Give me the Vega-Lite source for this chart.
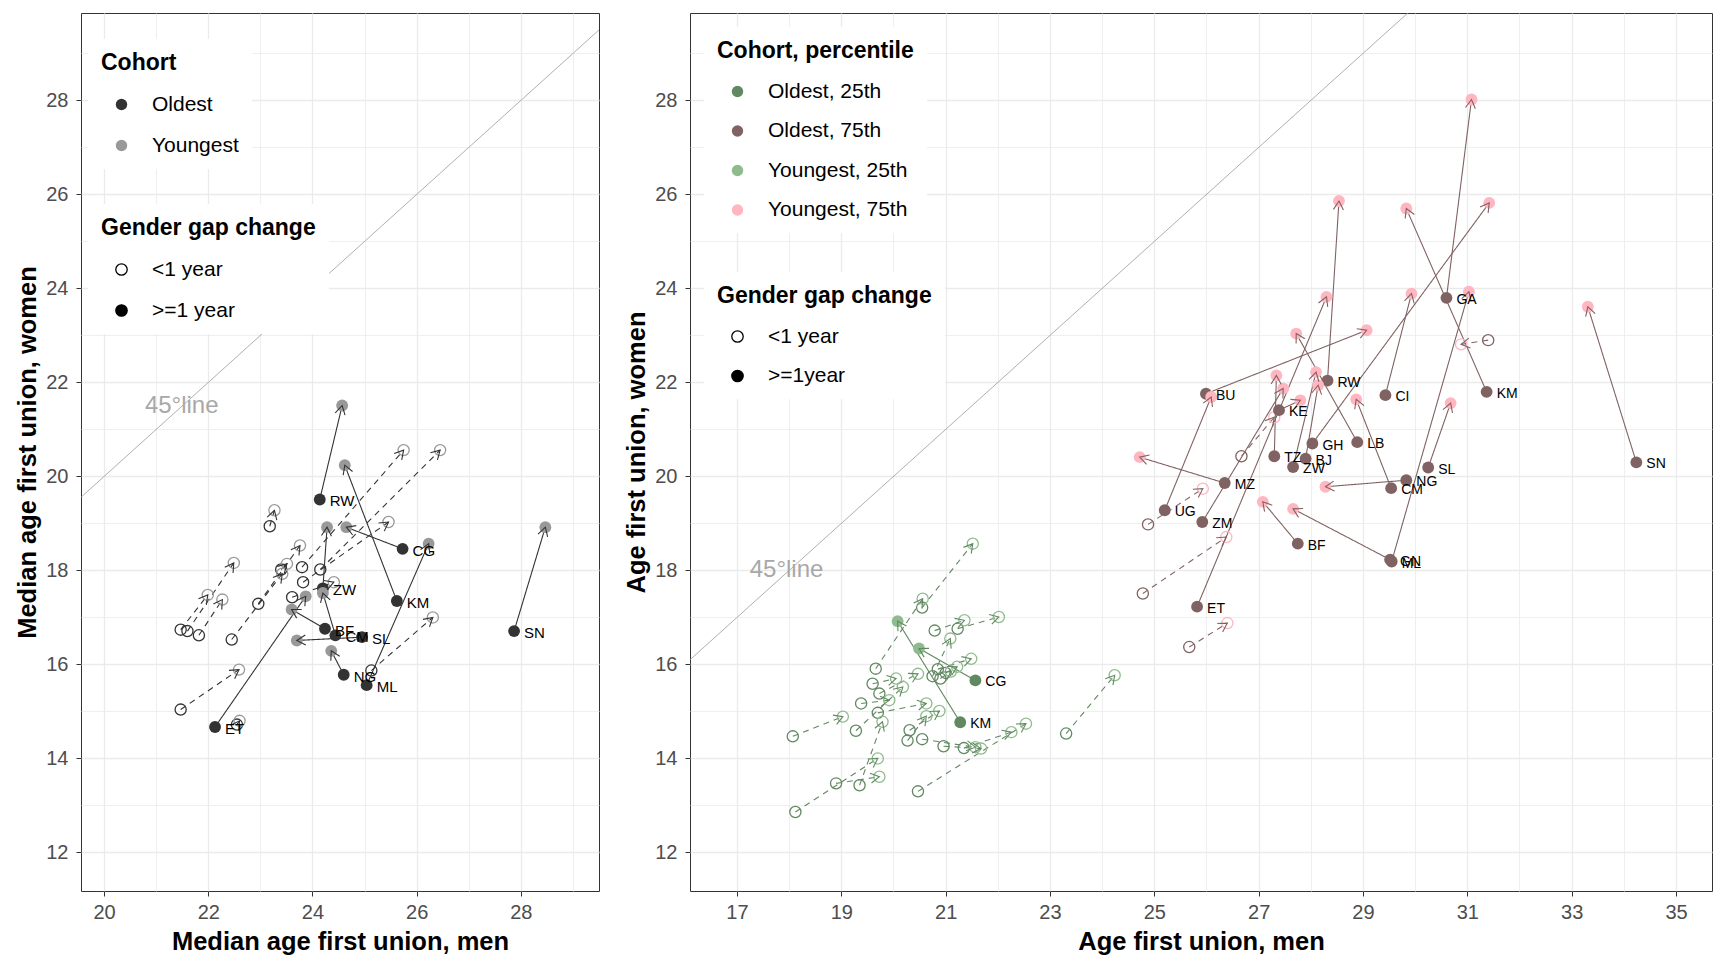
{
  "$schema": "https://vega.github.io/schema/vega-lite/v6.json",
  "padding": {"left": 15, "top": 12, "right": 0, "bottom": 0},
  "spacing": 24,
  "background": "white",
  "config": {
    "font": "Liberation Sans",
    "view": {"stroke": "#333333", "strokeWidth": 1},
    "axis": {
      "domain": false,
      "labelFontSize": 20,
      "labelColor": "#4D4D4D",
      "titleFontSize": 25.5,
      "titleFontWeight": "bold",
      "titleColor": "#000000",
      "tickColor": "#333333",
      "tickSize": 5,
      "tickWidth": 1,
      "gridColor": "#EBEBEB",
      "labelPadding": 6,
      "titlePadding": 7,
      "labelOverlap": false,
      "labelFlush": false
    },
    "legend": {
      "orient": "none",
      "titleFontSize": 23,
      "titleFontWeight": "bold",
      "titleColor": "#000000",
      "titleLimit": 500,
      "labelLimit": 400,
      "labelFontSize": 21,
      "labelColor": "#000000",
      "fillColor": "#FFFFFF",
      "padding": 13,
      "symbolSize": 130,
      "symbolType": "circle",
      "rowPadding": 19,
      "titlePadding": 19,
      "labelOffset": 20,
      "symbolOffset": 10
    }
  },
  "datasets": {
    "L": [
      {"c": "RW", "g": "Oldest", "yg": "Youngest", "gap": ">=1 year", "x0": 24.14, "y0": 19.51, "x1": 24.57, "y1": 21.51},
      {"c": "KM", "g": "Oldest", "yg": "Youngest", "gap": ">=1 year", "x0": 25.62, "y0": 17.35, "x1": 24.62, "y1": 20.24},
      {"c": "CG", "g": "Oldest", "yg": "Youngest", "gap": ">=1 year", "x0": 25.73, "y0": 18.46, "x1": 24.65, "y1": 18.92},
      {"c": "ZW", "g": "Oldest", "yg": "Youngest", "gap": ">=1 year", "x0": 24.2, "y0": 17.62, "x1": 24.28, "y1": 18.92},
      {"c": "CM", "g": "Oldest", "yg": "Youngest", "gap": ">=1 year", "x0": 24.44, "y0": 16.62, "x1": 24.2, "y1": 17.52},
      {"c": "ML", "g": "Oldest", "yg": "Youngest", "gap": ">=1 year", "x0": 25.04, "y0": 15.56, "x1": 26.23, "y1": 18.57},
      {"c": "NG", "g": "Oldest", "yg": "Youngest", "gap": ">=1 year", "x0": 24.6, "y0": 15.78, "x1": 24.36, "y1": 16.29},
      {"c": "SL", "g": "Oldest", "yg": "Youngest", "gap": ">=1 year", "x0": 24.95, "y0": 16.58, "x1": 23.7, "y1": 16.51},
      {"c": "BF", "g": "Oldest", "yg": "Youngest", "gap": ">=1 year", "x0": 24.24, "y0": 16.76, "x1": 23.6, "y1": 17.17},
      {"c": "ET", "g": "Oldest", "yg": "Youngest", "gap": ">=1 year", "x0": 22.13, "y0": 14.67, "x1": 23.87, "y1": 17.45},
      {"c": "SN", "g": "Oldest", "yg": "Youngest", "gap": ">=1 year", "x0": 27.87, "y0": 16.71, "x1": 28.47, "y1": 18.92},
      {"c": "", "g": "Oldest", "yg": "Youngest", "gap": "<1 year", "x0": 21.47, "y0": 15.04, "x1": 22.59, "y1": 15.89},
      {"c": "", "g": "Oldest", "yg": "Youngest", "gap": "<1 year", "x0": 21.47, "y0": 16.74, "x1": 21.99, "y1": 17.48},
      {"c": "", "g": "Oldest", "yg": "Youngest", "gap": "<1 year", "x0": 21.6, "y0": 16.71, "x1": 22.49, "y1": 18.16},
      {"c": "", "g": "Oldest", "yg": "Youngest", "gap": "<1 year", "x0": 21.82, "y0": 16.62, "x1": 22.27, "y1": 17.38},
      {"c": "", "g": "Oldest", "yg": "Youngest", "gap": "<1 year", "x0": 22.45, "y0": 16.53, "x1": 23.42, "y1": 17.93},
      {"c": "", "g": "Oldest", "yg": "Youngest", "gap": "<1 year", "x0": 22.96, "y0": 17.29, "x1": 23.76, "y1": 18.53},
      {"c": "", "g": "Oldest", "yg": "Youngest", "gap": "<1 year", "x0": 23.18, "y0": 18.94, "x1": 23.27, "y1": 19.28},
      {"c": "", "g": "Oldest", "yg": "Youngest", "gap": "<1 year", "x0": 23.8, "y0": 18.07, "x1": 25.75, "y1": 20.56},
      {"c": "", "g": "Oldest", "yg": "Youngest", "gap": "<1 year", "x0": 24.15, "y0": 18.02, "x1": 26.45, "y1": 20.56},
      {"c": "", "g": "Oldest", "yg": "Youngest", "gap": "<1 year", "x0": 23.82, "y0": 17.75, "x1": 25.46, "y1": 19.03},
      {"c": "", "g": "Oldest", "yg": "Youngest", "gap": "<1 year", "x0": 23.61, "y0": 17.43, "x1": 24.41, "y1": 17.75},
      {"c": "", "g": "Oldest", "yg": "Youngest", "gap": "<1 year", "x0": 25.13, "y0": 15.87, "x1": 26.31, "y1": 17.0},
      {"c": "", "g": "Oldest", "yg": "Youngest", "gap": "<1 year", "x0": 22.55, "y0": 14.72, "x1": 22.6, "y1": 14.8},
      {"c": "", "g": "Oldest", "yg": "Youngest", "gap": "<1 year", "x0": 23.4, "y0": 18.02, "x1": 23.51, "y1": 18.14}
    ],
    "R": [
      {"c": "BU", "g": "Oldest, 75th", "yg": "Youngest, 75th", "gap": ">=1year", "x0": 25.99, "y0": 21.76, "x1": 29.07, "y1": 23.11},
      {"c": "UG", "g": "Oldest, 75th", "yg": "Youngest, 75th", "gap": ">=1year", "x0": 25.2, "y0": 19.28, "x1": 26.09, "y1": 21.69},
      {"c": "MZ", "g": "Oldest, 75th", "yg": "Youngest, 75th", "gap": ">=1year", "x0": 26.35, "y0": 19.86, "x1": 24.72, "y1": 20.41},
      {"c": "ZM", "g": "Oldest, 75th", "yg": "Youngest, 75th", "gap": ">=1year", "x0": 25.92, "y0": 19.03, "x1": 27.47, "y1": 21.87},
      {"c": "ET", "g": "Oldest, 75th", "yg": "Youngest, 75th", "gap": ">=1year", "x0": 25.82, "y0": 17.23, "x1": 28.3, "y1": 23.82},
      {"c": "TZ", "g": "Oldest, 75th", "yg": "Youngest, 75th", "gap": ">=1year", "x0": 27.3, "y0": 20.43, "x1": 27.34, "y1": 22.15},
      {"c": "KE", "g": "Oldest, 75th", "yg": "Youngest, 75th", "gap": ">=1year", "x0": 27.39, "y0": 21.41, "x1": 27.8, "y1": 21.62},
      {"c": "LB", "g": "Oldest, 75th", "yg": "Youngest, 75th", "gap": ">=1year", "x0": 28.89, "y0": 20.73, "x1": 27.72, "y1": 23.04},
      {"c": "ZW", "g": "Oldest, 75th", "yg": "Youngest, 75th", "gap": ">=1year", "x0": 27.66, "y0": 20.2, "x1": 28.1, "y1": 22.22},
      {"c": "BJ", "g": "Oldest, 75th", "yg": "Youngest, 75th", "gap": ">=1year", "x0": 27.9, "y0": 20.38, "x1": 28.14, "y1": 21.94},
      {"c": "GH", "g": "Oldest, 75th", "yg": "Youngest, 75th", "gap": ">=1year", "x0": 28.03, "y0": 20.7, "x1": 31.42, "y1": 25.82},
      {"c": "RW", "g": "Oldest, 75th", "yg": "Youngest, 75th", "gap": ">=1year", "x0": 28.32, "y0": 22.04, "x1": 28.54, "y1": 25.86},
      {"c": "CI", "g": "Oldest, 75th", "yg": "Youngest, 75th", "gap": ">=1year", "x0": 29.43, "y0": 21.73, "x1": 29.93, "y1": 23.89},
      {"c": "GA", "g": "Oldest, 75th", "yg": "Youngest, 75th", "gap": ">=1year", "x0": 30.6, "y0": 23.8, "x1": 31.08, "y1": 28.02},
      {"c": "KM", "g": "Oldest, 75th", "yg": "Youngest, 75th", "gap": ">=1year", "x0": 31.37, "y0": 21.8, "x1": 29.83, "y1": 25.7},
      {"c": "SL", "g": "Oldest, 75th", "yg": "Youngest, 75th", "gap": ">=1year", "x0": 30.25, "y0": 20.19, "x1": 30.68, "y1": 21.56},
      {"c": "NG", "g": "Oldest, 75th", "yg": "Youngest, 75th", "gap": ">=1year", "x0": 29.83, "y0": 19.92, "x1": 28.28, "y1": 19.78},
      {"c": "CM", "g": "Oldest, 75th", "yg": "Youngest, 75th", "gap": ">=1year", "x0": 29.54, "y0": 19.75, "x1": 28.87, "y1": 21.64},
      {"c": "GN", "g": "Oldest, 75th", "yg": "Youngest, 75th", "gap": ">=1year", "x0": 29.52, "y0": 18.23, "x1": 27.66, "y1": 19.31},
      {"c": "ML", "g": "Oldest, 75th", "yg": "Youngest, 75th", "gap": ">=1year", "x0": 29.55, "y0": 18.19, "x1": 31.03, "y1": 23.93},
      {"c": "BF", "g": "Oldest, 75th", "yg": "Youngest, 75th", "gap": ">=1year", "x0": 27.75, "y0": 18.57, "x1": 27.08, "y1": 19.46},
      {"c": "SN", "g": "Oldest, 75th", "yg": "Youngest, 75th", "gap": ">=1year", "x0": 34.24, "y0": 20.3, "x1": 33.31, "y1": 23.61},
      {"c": "", "g": "Oldest, 75th", "yg": "Youngest, 75th", "gap": "<1 year", "x0": 26.67, "y0": 20.43, "x1": 27.3, "y1": 21.26},
      {"c": "", "g": "Oldest, 75th", "yg": "Youngest, 75th", "gap": "<1 year", "x0": 24.88, "y0": 18.98, "x1": 25.93, "y1": 19.74},
      {"c": "", "g": "Oldest, 75th", "yg": "Youngest, 75th", "gap": "<1 year", "x0": 24.78, "y0": 17.51, "x1": 26.38, "y1": 18.71},
      {"c": "", "g": "Oldest, 75th", "yg": "Youngest, 75th", "gap": "<1 year", "x0": 25.67, "y0": 16.37, "x1": 26.4, "y1": 16.88},
      {"c": "", "g": "Oldest, 75th", "yg": "Youngest, 75th", "gap": "<1 year", "x0": 31.4, "y0": 22.9, "x1": 30.88, "y1": 22.81},
      {"c": "CG", "g": "Oldest, 25th", "yg": "Youngest, 25th", "gap": ">=1year", "x0": 21.57, "y0": 15.66, "x1": 20.49, "y1": 16.34},
      {"c": "KM", "g": "Oldest, 25th", "yg": "Youngest, 25th", "gap": ">=1year", "x0": 21.28, "y0": 14.77, "x1": 20.08, "y1": 16.92},
      {"c": "", "g": "Oldest, 25th", "yg": "Youngest, 25th", "gap": "<1 year", "x0": 18.12, "y0": 12.86, "x1": 19.7, "y1": 14.0},
      {"c": "", "g": "Oldest, 25th", "yg": "Youngest, 25th", "gap": "<1 year", "x0": 18.07, "y0": 14.47, "x1": 19.03, "y1": 14.89},
      {"c": "", "g": "Oldest, 25th", "yg": "Youngest, 25th", "gap": "<1 year", "x0": 18.9, "y0": 13.47, "x1": 19.73, "y1": 13.61},
      {"c": "", "g": "Oldest, 25th", "yg": "Youngest, 25th", "gap": "<1 year", "x0": 19.35, "y0": 13.43, "x1": 19.79, "y1": 14.78},
      {"c": "", "g": "Oldest, 25th", "yg": "Youngest, 25th", "gap": "<1 year", "x0": 20.47, "y0": 13.3, "x1": 22.54, "y1": 14.74},
      {"c": "", "g": "Oldest, 25th", "yg": "Youngest, 25th", "gap": "<1 year", "x0": 23.31, "y0": 14.53, "x1": 24.24, "y1": 15.77},
      {"c": "", "g": "Oldest, 25th", "yg": "Youngest, 25th", "gap": "<1 year", "x0": 19.28, "y0": 14.59, "x1": 20.18, "y1": 15.52},
      {"c": "", "g": "Oldest, 25th", "yg": "Youngest, 25th", "gap": "<1 year", "x0": 19.7, "y0": 14.97, "x1": 20.63, "y1": 15.17},
      {"c": "", "g": "Oldest, 25th", "yg": "Youngest, 25th", "gap": "<1 year", "x0": 20.31, "y0": 14.6, "x1": 20.88, "y1": 15.01},
      {"c": "", "g": "Oldest, 25th", "yg": "Youngest, 25th", "gap": "<1 year", "x0": 20.27, "y0": 14.38, "x1": 20.63, "y1": 14.9},
      {"c": "", "g": "Oldest, 25th", "yg": "Youngest, 25th", "gap": "<1 year", "x0": 20.55, "y0": 14.41, "x1": 21.57, "y1": 14.24},
      {"c": "", "g": "Oldest, 25th", "yg": "Youngest, 25th", "gap": "<1 year", "x0": 20.96, "y0": 14.26, "x1": 21.68, "y1": 14.21},
      {"c": "", "g": "Oldest, 25th", "yg": "Youngest, 25th", "gap": "<1 year", "x0": 21.35, "y0": 14.22, "x1": 22.26, "y1": 14.56},
      {"c": "", "g": "Oldest, 25th", "yg": "Youngest, 25th", "gap": "<1 year", "x0": 19.38, "y0": 15.17, "x1": 19.92, "y1": 15.24},
      {"c": "", "g": "Oldest, 25th", "yg": "Youngest, 25th", "gap": "<1 year", "x0": 19.6, "y0": 15.59, "x1": 20.05, "y1": 15.7},
      {"c": "", "g": "Oldest, 25th", "yg": "Youngest, 25th", "gap": "<1 year", "x0": 19.73, "y0": 15.38, "x1": 20.47, "y1": 15.8},
      {"c": "", "g": "Oldest, 25th", "yg": "Youngest, 25th", "gap": "<1 year", "x0": 19.66, "y0": 15.91, "x1": 20.56, "y1": 17.4},
      {"c": "", "g": "Oldest, 25th", "yg": "Youngest, 25th", "gap": "<1 year", "x0": 20.55, "y0": 17.21, "x1": 21.52, "y1": 18.57},
      {"c": "", "g": "Oldest, 25th", "yg": "Youngest, 25th", "gap": "<1 year", "x0": 20.79, "y0": 16.72, "x1": 21.36, "y1": 16.94},
      {"c": "", "g": "Oldest, 25th", "yg": "Youngest, 25th", "gap": "<1 year", "x0": 21.23, "y0": 16.76, "x1": 22.02, "y1": 17.01},
      {"c": "", "g": "Oldest, 25th", "yg": "Youngest, 25th", "gap": "<1 year", "x0": 20.85, "y0": 15.9, "x1": 21.49, "y1": 16.12},
      {"c": "", "g": "Oldest, 25th", "yg": "Youngest, 25th", "gap": "<1 year", "x0": 20.75, "y0": 15.75, "x1": 21.09, "y1": 16.55},
      {"c": "", "g": "Oldest, 25th", "yg": "Youngest, 25th", "gap": "<1 year", "x0": 20.9, "y0": 15.7, "x1": 21.1, "y1": 15.85},
      {"c": "", "g": "Oldest, 25th", "yg": "Youngest, 25th", "gap": "<1 year", "x0": 21.0, "y0": 15.82, "x1": 21.22, "y1": 15.95}
    ]
  },
  "hconcat": [
    {
      "width": 518,
      "height": 878,
      "layer": [
        {
          "data": {"values": [{"a": 0, "b": 60}]},
          "mark": {"type": "rule", "clip": true, "color": "#9A9A9A", "strokeWidth": 0.8},
          "encoding": {
            "x": {"field": "a", "type": "quantitative", "scale": {"domain": [19.557, 29.5], "nice": false, "zero": false}, "title": "Median age first union, men",
              "axis": {"values": [20, 21, 22, 23, 24, 25, 26, 27, 28, 29], "labelExpr": "datum.value % 2 === 0 ? datum.label : ''",
                "gridWidth": {"condition": {"test": "datum.value % 2 === 0", "value": 1.3}, "value": 0.8},
                "tickOpacity": {"condition": {"test": "datum.value % 2 === 0", "value": 1}, "value": 0}}},
            "y": {"field": "a", "type": "quantitative", "scale": {"domain": [11.18, 29.86], "nice": false, "zero": false}, "title": "Median age first union, women",
              "axis": {"values": [12, 13, 14, 15, 16, 17, 18, 19, 20, 21, 22, 23, 24, 25, 26, 27, 28, 29], "labelExpr": "datum.value % 2 === 0 ? datum.label : ''", "labelPadding": 8, "titlePadding": 5,
                "gridWidth": {"condition": {"test": "datum.value % 2 === 0", "value": 1.3}, "value": 0.8},
                "tickOpacity": {"condition": {"test": "datum.value % 2 === 0", "value": 1}, "value": 0}}},
            "x2": {"field": "b"},
            "y2": {"field": "b"}
          }
        },
        {
          "data": {"values": [{"t": "45°line", "x": 21.49, "y": 21.49}]},
          "mark": {"type": "text", "fontSize": 24, "color": "#A8A8A8"},
          "encoding": {
            "x": {"field": "x", "type": "quantitative", "scale": {"domain": [19.557, 29.5], "nice": false, "zero": false}, "title": "Median age first union, men"},
            "y": {"field": "y", "type": "quantitative", "scale": {"domain": [11.18, 29.86], "nice": false, "zero": false}, "title": "Median age first union, women"},
            "text": {"field": "t"}
          }
        },
        {
          "data": {"name": "L"},
          "mark": {"type": "rule", "strokeWidth": 1.1},
          "encoding": {
            "x": {"field": "x0", "type": "quantitative", "scale": {"domain": [19.557, 29.5], "nice": false, "zero": false}, "title": "Median age first union, men"},
            "y": {"field": "y0", "type": "quantitative", "scale": {"domain": [11.18, 29.86], "nice": false, "zero": false}, "title": "Median age first union, women"},
            "x2": {"field": "x1"},
            "y2": {"field": "y1"},
            "stroke": {"field": "g", "type": "nominal", "scale": {"domain": ["Oldest", "Youngest"], "range": ["#333333", "#999999"]}, "legend": null},
            "strokeDash": {"field": "gap", "type": "nominal", "scale": {"domain": [">=1 year", "<1 year"], "range": [[1, 0], [6, 5]]}, "legend": null}
          }
        },
        {
          "data": {"name": "L"},
          "transform": [{"filter": "datum.gap === '<1 year'"}],
          "mark": {"type": "point", "filled": false, "size": 125, "strokeWidth": 1.3, "opacity": 1},
          "encoding": {
            "x": {"field": "x0", "type": "quantitative", "scale": {"domain": [19.557, 29.5], "nice": false, "zero": false}, "title": "Median age first union, men"},
            "y": {"field": "y0", "type": "quantitative", "scale": {"domain": [11.18, 29.86], "nice": false, "zero": false}, "title": "Median age first union, women"},
            "stroke": {"field": "g", "type": "nominal", "scale": {"domain": ["Oldest", "Youngest"], "range": ["#333333", "#999999"]}, "legend": null}
          }
        },
        {
          "data": {"name": "L"},
          "transform": [{"filter": "datum.gap === '<1 year'"}],
          "mark": {"type": "point", "filled": false, "size": 125, "strokeWidth": 1.3, "opacity": 1},
          "encoding": {
            "x": {"field": "x1", "type": "quantitative", "scale": {"domain": [19.557, 29.5], "nice": false, "zero": false}, "title": "Median age first union, men"},
            "y": {"field": "y1", "type": "quantitative", "scale": {"domain": [11.18, 29.86], "nice": false, "zero": false}, "title": "Median age first union, women"},
            "stroke": {"field": "yg", "type": "nominal", "scale": {"domain": ["Oldest", "Youngest"], "range": ["#333333", "#999999"]}, "legend": null}
          }
        },
        {
          "data": {"name": "L"},
          "transform": [{"filter": "datum.gap !== '<1 year'"}],
          "mark": {"type": "point", "filled": true, "size": 140, "opacity": 1},
          "encoding": {
            "x": {"field": "x0", "type": "quantitative", "scale": {"domain": [19.557, 29.5], "nice": false, "zero": false}, "title": "Median age first union, men"},
            "y": {"field": "y0", "type": "quantitative", "scale": {"domain": [11.18, 29.86], "nice": false, "zero": false}, "title": "Median age first union, women"},
            "color": {"field": "g", "type": "nominal", "title": "Cohort", "scale": {"range": ["#333333", "#999999"]},
              "legend": {"orient": "none", "legendX": 7, "legendY": 26, "title": "Cohort"}}
          }
        },
        {
          "data": {"name": "L"},
          "transform": [{"filter": "datum.gap !== '<1 year'"}],
          "mark": {"type": "point", "filled": true, "size": 140, "opacity": 1},
          "encoding": {
            "x": {"field": "x1", "type": "quantitative", "scale": {"domain": [19.557, 29.5], "nice": false, "zero": false}, "title": "Median age first union, men"},
            "y": {"field": "y1", "type": "quantitative", "scale": {"domain": [11.18, 29.86], "nice": false, "zero": false}, "title": "Median age first union, women"},
            "color": {"field": "yg", "type": "nominal", "title": "Cohort", "scale": {"range": ["#333333", "#999999"]}}
          }
        },
        {
          "data": {"name": "L"},
          "mark": {"type": "point", "shape": "M-0.5,0.87L0,0L0.5,0.87", "filled": false, "size": 400, "strokeWidth": 1.1, "opacity": 1,
            "angle": {"expr": "atan2((datum.x1-datum.x0)*52.11,(datum.y1-datum.y0)*46.99)*180/PI"}},
          "encoding": {
            "x": {"field": "x1", "type": "quantitative", "scale": {"domain": [19.557, 29.5], "nice": false, "zero": false}, "title": "Median age first union, men"},
            "y": {"field": "y1", "type": "quantitative", "scale": {"domain": [11.18, 29.86], "nice": false, "zero": false}, "title": "Median age first union, women"},
            "stroke": {"field": "g", "type": "nominal", "scale": {"domain": ["Oldest", "Youngest"], "range": ["#333333", "#999999"]}, "legend": null}
          }
        },
        {
          "data": {"name": "L"},
          "transform": [{"filter": "datum.gap !== '<1 year'"}],
          "mark": {"type": "text", "align": "left", "baseline": "middle", "dx": 10, "dy": 2, "fontSize": 15, "color": "#000000"},
          "encoding": {
            "x": {"field": "x0", "type": "quantitative", "scale": {"domain": [19.557, 29.5], "nice": false, "zero": false}, "title": "Median age first union, men"},
            "y": {"field": "y0", "type": "quantitative", "scale": {"domain": [11.18, 29.86], "nice": false, "zero": false}, "title": "Median age first union, women"},
            "text": {"field": "c"}
          }
        },
        {
          "data": {"name": "L"},
          "mark": {"type": "point", "filled": true, "size": 0},
          "encoding": {
            "x": {"field": "x0", "type": "quantitative", "scale": {"domain": [19.557, 29.5], "nice": false, "zero": false}, "title": "Median age first union, men"},
            "y": {"field": "y0", "type": "quantitative", "scale": {"domain": [11.18, 29.86], "nice": false, "zero": false}, "title": "Median age first union, women"},
            "fill": {"field": "gap", "type": "nominal", "title": "Gender gap change", "scale": {"range": ["#FFFFFF", "#000000"]},
              "legend": {"orient": "none", "legendX": 7, "legendY": 191, "title": "Gender gap change", "symbolStrokeColor": "#000000", "symbolStrokeWidth": 1.3, "symbolOpacity": 1}}
          }
        }
      ]
    },
    {
      "width": 1022,
      "height": 878,
      "layer": [
        {
          "data": {"values": [{"a": 0, "b": 60}]},
          "mark": {"type": "rule", "clip": true, "color": "#9A9A9A", "strokeWidth": 0.8},
          "encoding": {
            "x": {"field": "a", "type": "quantitative", "scale": {"domain": [16.1, 35.69], "nice": false, "zero": false}, "title": "Age first union, men",
              "axis": {"values": [17, 18, 19, 20, 21, 22, 23, 24, 25, 26, 27, 28, 29, 30, 31, 32, 33, 34, 35], "labelExpr": "datum.value % 2 === 1 ? datum.label : ''",
                "gridWidth": {"condition": {"test": "datum.value % 2 === 1", "value": 1.3}, "value": 0.8},
                "tickOpacity": {"condition": {"test": "datum.value % 2 === 1", "value": 1}, "value": 0}}},
            "y": {"field": "a", "type": "quantitative", "scale": {"domain": [11.18, 29.86], "nice": false, "zero": false}, "title": "Age first union, women",
              "axis": {"values": [12, 13, 14, 15, 16, 17, 18, 19, 20, 21, 22, 23, 24, 25, 26, 27, 28, 29], "labelExpr": "datum.value % 2 === 0 ? datum.label : ''", "labelPadding": 8, "titlePadding": 5,
                "gridWidth": {"condition": {"test": "datum.value % 2 === 0", "value": 1.3}, "value": 0.8},
                "tickOpacity": {"condition": {"test": "datum.value % 2 === 0", "value": 1}, "value": 0}}},
            "x2": {"field": "b"},
            "y2": {"field": "b"}
          }
        },
        {
          "data": {"values": [{"t": "45°line", "x": 17.95, "y": 18.0}]},
          "mark": {"type": "text", "fontSize": 24, "color": "#A8A8A8"},
          "encoding": {
            "x": {"field": "x", "type": "quantitative", "scale": {"domain": [16.1, 35.69], "nice": false, "zero": false}, "title": "Age first union, men"},
            "y": {"field": "y", "type": "quantitative", "scale": {"domain": [11.18, 29.86], "nice": false, "zero": false}, "title": "Age first union, women"},
            "text": {"field": "t"}
          }
        },
        {
          "data": {"name": "R"},
          "mark": {"type": "rule", "strokeWidth": 1.1},
          "encoding": {
            "x": {"field": "x0", "type": "quantitative", "scale": {"domain": [16.1, 35.69], "nice": false, "zero": false}, "title": "Age first union, men"},
            "y": {"field": "y0", "type": "quantitative", "scale": {"domain": [11.18, 29.86], "nice": false, "zero": false}, "title": "Age first union, women"},
            "x2": {"field": "x1"},
            "y2": {"field": "y1"},
            "stroke": {"field": "g", "type": "nominal", "scale": {"domain": ["Oldest, 25th", "Oldest, 75th", "Youngest, 25th", "Youngest, 75th"], "range": ["#628862", "#816262", "#8FBC8F", "#FFB6C1"]}, "legend": null},
            "strokeDash": {"field": "gap", "type": "nominal", "scale": {"domain": [">=1year", "<1 year"], "range": [[1, 0], [6, 5]]}, "legend": null}
          }
        },
        {
          "data": {"name": "R"},
          "transform": [{"filter": "datum.gap === '<1 year'"}],
          "mark": {"type": "point", "filled": false, "size": 125, "strokeWidth": 1.3, "opacity": 1},
          "encoding": {
            "x": {"field": "x0", "type": "quantitative", "scale": {"domain": [16.1, 35.69], "nice": false, "zero": false}, "title": "Age first union, men"},
            "y": {"field": "y0", "type": "quantitative", "scale": {"domain": [11.18, 29.86], "nice": false, "zero": false}, "title": "Age first union, women"},
            "stroke": {"field": "g", "type": "nominal", "scale": {"domain": ["Oldest, 25th", "Oldest, 75th", "Youngest, 25th", "Youngest, 75th"], "range": ["#628862", "#816262", "#8FBC8F", "#FFB6C1"]}, "legend": null}
          }
        },
        {
          "data": {"name": "R"},
          "transform": [{"filter": "datum.gap === '<1 year'"}],
          "mark": {"type": "point", "filled": false, "size": 125, "strokeWidth": 1.3, "opacity": 1},
          "encoding": {
            "x": {"field": "x1", "type": "quantitative", "scale": {"domain": [16.1, 35.69], "nice": false, "zero": false}, "title": "Age first union, men"},
            "y": {"field": "y1", "type": "quantitative", "scale": {"domain": [11.18, 29.86], "nice": false, "zero": false}, "title": "Age first union, women"},
            "stroke": {"field": "yg", "type": "nominal", "scale": {"domain": ["Oldest, 25th", "Oldest, 75th", "Youngest, 25th", "Youngest, 75th"], "range": ["#628862", "#816262", "#8FBC8F", "#FFB6C1"]}, "legend": null}
          }
        },
        {
          "data": {"name": "R"},
          "transform": [{"filter": "datum.gap !== '<1 year'"}],
          "mark": {"type": "point", "filled": true, "size": 140, "opacity": 1},
          "encoding": {
            "x": {"field": "x0", "type": "quantitative", "scale": {"domain": [16.1, 35.69], "nice": false, "zero": false}, "title": "Age first union, men"},
            "y": {"field": "y0", "type": "quantitative", "scale": {"domain": [11.18, 29.86], "nice": false, "zero": false}, "title": "Age first union, women"},
            "color": {"field": "g", "type": "nominal", "title": "Cohort, percentile", "scale": {"range": ["#628862", "#816262", "#8FBC8F", "#FFB6C1"]},
              "legend": {"orient": "none", "legendX": 14, "legendY": 14, "title": "Cohort, percentile", "rowPadding": 17.5, "titlePadding": 18}}
          }
        },
        {
          "data": {"name": "R"},
          "transform": [{"filter": "datum.gap !== '<1 year'"}],
          "mark": {"type": "point", "filled": true, "size": 140, "opacity": 1},
          "encoding": {
            "x": {"field": "x1", "type": "quantitative", "scale": {"domain": [16.1, 35.69], "nice": false, "zero": false}, "title": "Age first union, men"},
            "y": {"field": "y1", "type": "quantitative", "scale": {"domain": [11.18, 29.86], "nice": false, "zero": false}, "title": "Age first union, women"},
            "color": {"field": "yg", "type": "nominal", "title": "Cohort, percentile", "scale": {"range": ["#628862", "#816262", "#8FBC8F", "#FFB6C1"]}}
          }
        },
        {
          "data": {"name": "R"},
          "mark": {"type": "point", "shape": "M-0.5,0.87L0,0L0.5,0.87", "filled": false, "size": 400, "strokeWidth": 1.1, "opacity": 1,
            "angle": {"expr": "atan2((datum.x1-datum.x0)*52.17,(datum.y1-datum.y0)*46.99)*180/PI"}},
          "encoding": {
            "x": {"field": "x1", "type": "quantitative", "scale": {"domain": [16.1, 35.69], "nice": false, "zero": false}, "title": "Age first union, men"},
            "y": {"field": "y1", "type": "quantitative", "scale": {"domain": [11.18, 29.86], "nice": false, "zero": false}, "title": "Age first union, women"},
            "stroke": {"field": "g", "type": "nominal", "scale": {"domain": ["Oldest, 25th", "Oldest, 75th", "Youngest, 25th", "Youngest, 75th"], "range": ["#628862", "#816262", "#8FBC8F", "#FFB6C1"]}, "legend": null}
          }
        },
        {
          "data": {"name": "R"},
          "transform": [{"filter": "datum.gap !== '<1 year'"}],
          "mark": {"type": "text", "align": "left", "baseline": "middle", "dx": 10, "dy": 2, "fontSize": 14, "color": "#000000"},
          "encoding": {
            "x": {"field": "x0", "type": "quantitative", "scale": {"domain": [16.1, 35.69], "nice": false, "zero": false}, "title": "Age first union, men"},
            "y": {"field": "y0", "type": "quantitative", "scale": {"domain": [11.18, 29.86], "nice": false, "zero": false}, "title": "Age first union, women"},
            "text": {"field": "c"}
          }
        },
        {
          "data": {"name": "R"},
          "mark": {"type": "point", "filled": true, "size": 0},
          "encoding": {
            "x": {"field": "x0", "type": "quantitative", "scale": {"domain": [16.1, 35.69], "nice": false, "zero": false}, "title": "Age first union, men"},
            "y": {"field": "y0", "type": "quantitative", "scale": {"domain": [11.18, 29.86], "nice": false, "zero": false}, "title": "Age first union, women"},
            "fill": {"field": "gap", "type": "nominal", "title": "Gender gap change", "scale": {"range": ["#FFFFFF", "#000000"]},
              "legend": {"orient": "none", "legendX": 14, "legendY": 259, "title": "Gender gap change", "rowPadding": 17.5, "titlePadding": 18, "symbolStrokeColor": "#000000", "symbolStrokeWidth": 1.3, "symbolOpacity": 1}}
          }
        }
      ]
    }
  ],
  "resolve": {
    "scale": {"x": "independent", "y": "independent", "color": "independent", "fill": "independent", "stroke": "independent", "strokeDash": "independent"},
    "legend": {"color": "independent", "fill": "independent"}
  }
}
